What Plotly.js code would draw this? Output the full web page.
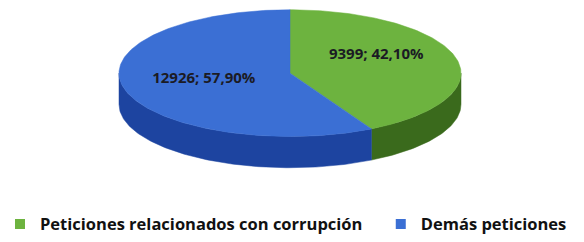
<!DOCTYPE html>
<html>
<head>
<meta charset="utf-8">
<script src="https://cdn.plot.ly/plotly-3.0.1.min.js"></script>
<style>html,body{margin:0;padding:0;background:#fff;}#chart{width:584px;height:242px;}</style>
</head>
<body>
<div id="chart"></div>
<script>
const labels = ['Peticiones relacionados con corrupción', 'Demás peticiones'];
const values = [9399, 12926];
const percentLabels = ['42,10%', '57,90%'];
const topColors = ['#6db33f', '#3b6fd4'];
const sideColors = ['#3a6a1c', '#1d44a0'];

// geometry of the tilted pie (pixel-like axis units)
const cx = 290, cy = 75, rx = 171, ry = 65, depth = 32;
const rad = d => d * Math.PI / 180;
const px = a => cx + rx * Math.sin(rad(a));
const py = a => cy - ry * Math.cos(rad(a));

const total = values.reduce((s, v) => s + v, 0);
const traces = [];
let start = 0;
const textX = [], textY = [], texts = [];
values.forEach((v, i) => {
  const sweep = v / total * 360;
  const end = start + sweep;
  // side (front visible part between 90 and 270 deg)
  const s0 = Math.max(start, 90), s1 = Math.min(end, 270);
  if (s1 > s0) {
    const xs = [], ys = [];
    const m = Math.ceil(s1 - s0);
    for (let k = 0; k <= m; k++) { const a = s0 + (s1 - s0) * k / m; xs.push(px(a)); ys.push(py(a)); }
    for (let k = m; k >= 0; k--) { xs.push(xs[k]); ys.push(ys[k] + depth); }
    xs.push(xs[0]); ys.push(ys[0]);
    traces.push({type: 'scatter', mode: 'lines', x: xs, y: ys, fill: 'toself', fillcolor: sideColors[i],
      line: {width: 0.5, color: sideColors[i]}, showlegend: false, hoverinfo: 'skip'});
  }
  // top face
  const tx = [cx], ty = [cy];
  const n = Math.ceil(sweep);
  for (let k = 0; k <= n; k++) { const a = start + sweep * k / n; tx.push(px(a)); ty.push(py(a)); }
  tx.push(cx); ty.push(cy);
  traces.push({type: 'scatter', mode: 'lines', x: tx, y: ty, fill: 'toself', fillcolor: topColors[i],
    line: {width: 0.5, color: topColors[i]}, showlegend: false, hoverinfo: 'skip'});
  const mid = start + sweep / 2;
  textX.push(cx + 0.52 * rx * Math.sin(rad(mid)));
  textY.push(cy - 0.8 * ry * Math.cos(rad(mid)) - 6);
  texts.push(v + '; ' + percentLabels[i]);
  start = end;
});

traces.push({type: 'scatter', mode: 'text', x: textX, y: textY, text: texts, textposition: 'middle center',
  textfont: {family: 'Open Sans', size: 15, weight: 700, color: '#1b1b24'}, showlegend: false, hoverinfo: 'skip'});

const legendIds = ['legend', 'legend2'];
labels.forEach((l, i) => {
  traces.push({type: 'scatter', mode: 'markers', x: [null], y: [null], name: l, legend: legendIds[i],
    marker: {symbol: 'square', size: 10, color: topColors[i]}});
});

const legendFont = {family: 'Open Sans', size: 16.5, weight: 700, color: '#111111'};
const layout = {
  width: 584, height: 242,
  margin: {l: 0, r: 0, t: 0, b: 0},
  paper_bgcolor: '#ffffff', plot_bgcolor: '#ffffff',
  xaxis: {range: [0, 584], visible: false, fixedrange: true},
  yaxis: {range: [242, 0], visible: false, fixedrange: true},
  showlegend: true,
  legend: {orientation: 'h', x: 0, xanchor: 'left', y: 0.05, yanchor: 'middle',
    bgcolor: 'rgba(0,0,0,0)', font: legendFont},
  legend2: {orientation: 'h', x: 0.652, xanchor: 'left', y: 0.05, yanchor: 'middle',
    bgcolor: 'rgba(0,0,0,0)', font: legendFont}
};
Plotly.newPlot('chart', traces, layout, {staticPlot: true});
</script>
</body>
</html>
